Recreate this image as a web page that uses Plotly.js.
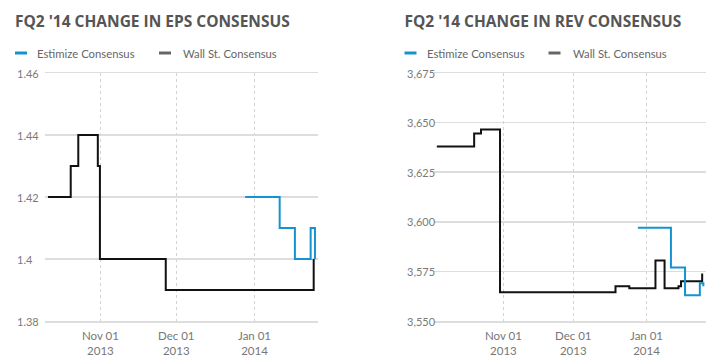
<!DOCTYPE html>
<html>
<head>
<meta charset="utf-8">
<script src="https://cdn.plot.ly/plotly-3.0.1.min.js"></script>
<style>
  html, body { margin: 0; padding: 0; background: #fff; }
  #wrap { width: 724px; height: 362px; display: flex; }
  .chart { width: 362px; height: 362px; }
</style>
</head>
<body>
<div id="wrap"><div id="eps" class="chart"></div><div id="rev" class="chart"></div></div>
<script>
// ---------- DATA ----------
const seriesNames = ["Estimize Consensus", "Wall St. Consensus"];

const epsTitle = "FQ2 '14 CHANGE IN EPS CONSENSUS";
const epsWallDates = ["2013-10-11", "2013-10-20", "2013-10-23", "2013-10-30 18:00", "2013-10-31 14:00", "2013-11-26 17:00", "2014-01-24 10:00"];
const epsWallValues = [1.42, 1.43, 1.44, 1.43, 1.40, 1.39, 1.40];
const epsEstDates = ["2013-12-28 05:00", "2014-01-10 22:00", "2014-01-16 23:00", "2014-01-23 05:00", "2014-01-24 22:00"];
const epsEstValues = [1.42, 1.41, 1.40, 1.41, 1.40];
const epsYTicks = [1.38, 1.40, 1.42, 1.44, 1.46];
const epsYTickText = ["1.38", "1.4", "1.42", "1.44", "1.46"];
const epsXRange = ["2013-10-09 19:00", "2014-01-26 03:00"];

const revTitle = "FQ2 '14 CHANGE IN REV CONSENSUS";
const revWallDates = ["2013-10-03 17:00", "2013-10-19 14:00", "2013-10-22 12:00", "2013-10-30 14:00", "2013-12-18 17:00", "2013-12-24 14:00", "2014-01-04 17:00", "2014-01-08 14:00", "2014-01-14 12:00", "2014-01-15 14:00", "2014-01-24 14:00"];
const revWallValues = [3638, 3644.5, 3646.5, 3564.5, 3567.5, 3566.5, 3580.5, 3566.5, 3567.5, 3570, 3574];
const revEstDates = ["2013-12-28 05:00", "2014-01-11 07:00", "2014-01-17 07:00", "2014-01-23 14:00", "2014-01-25 02:00"];
const revEstValues = [3597, 3577, 3563, 3569, 3567.5];
const revYTicks = [3550, 3575, 3600, 3625, 3650, 3675];
const revYTickText = ["3,550", "3,575", "3,600", "3,625", "3,650", "3,675"];
const revXRange = ["2013-10-02 12:00", "2014-01-26 05:00"];

const xTickVals = ["2013-11-01", "2013-12-01", "2014-01-01"];
const xTickText = ["Nov 01<br>2013", "Dec 01<br>2013", "Jan 01<br>2014"];

// ---------- STYLE ----------
const BLUE = "#1592cf";
const BLACK = "#111111";
const SWATCH_GRAY = "#666666";
const W = 362, H = 362;
const SMALL_FONT = "Lato, 'Open Sans', sans-serif";

function makeChart(div, title, wallX, wallY, estX, estY, yTicks, yText, xRange, margin, ox) {
  const pw = W - margin.l - margin.r;
  const ph = H - margin.t - margin.b;
  const px = v => (v - margin.l) / pw;
  const py = v => (H - margin.b - v) / ph;

  const traces = [
    { x: wallX, y: wallY, type: "scatter", mode: "lines", name: seriesNames[1],
      line: { shape: "hv", color: BLACK, width: 2 }, hoverinfo: "skip" },
    { x: estX, y: estY, type: "scatter", mode: "lines", name: seriesNames[0],
      line: { shape: "hv", color: BLUE, width: 2 }, hoverinfo: "skip" }
  ];

  const legY = 53;
  const annotations = [
    { text: seriesNames[0], xref: "paper", yref: "paper", x: px(ox + 35), y: py(legY),
      xanchor: "left", yanchor: "middle", showarrow: false,
      font: { family: SMALL_FONT, size: 11.3, color: "#666666" } },
    { text: seriesNames[1], xref: "paper", yref: "paper", x: px(ox + 181), y: py(legY),
      xanchor: "left", yanchor: "middle", showarrow: false,
      font: { family: SMALL_FONT, size: 11.3, color: "#666666" } }
  ];
  yTicks.forEach((v, i) => annotations.push({
    text: yText[i], xref: "paper", yref: "y", x: px(ox + 15), y: v,
    xanchor: "left", yanchor: "middle", showarrow: false,
    font: { family: SMALL_FONT, size: 11, color: "#7a7a7a" }
  }));
  xTickVals.forEach((v, i) => annotations.push({
    text: xTickText[i], xref: "x", yref: "paper", x: v, y: py(327),
    xanchor: "center", yanchor: "top", showarrow: false, align: "center",
    font: { family: SMALL_FONT, size: 11.5, color: "#777777" }
  }));

  const layout = {
    width: W, height: H,
    margin: margin,
    paper_bgcolor: "#fff", plot_bgcolor: "#fff",
    showlegend: false,
    title: { text: title, x: (ox + 15) / W, xanchor: "left", xref: "container",
             y: 1 - 22 / H, yanchor: "middle", yref: "container",
             font: { family: "Open Sans", size: 15.5, color: "#555555", weight: 700 } },
    xaxis: {
      type: "date", range: xRange,
      tickvals: xTickVals, showticklabels: false,
      showgrid: true, gridcolor: "#d2d2d2", griddash: "dot", gridwidth: 1,
      zeroline: false, showline: true, mirror: true, linecolor: "#dddddd", linewidth: 1.5,
      ticks: ""
    },
    yaxis: {
      range: [yTicks[0], yTicks[yTicks.length - 1]],
      tickvals: yTicks, showticklabels: false,
      showgrid: true, gridcolor: "#dddddd", gridwidth: 1.5,
      zeroline: false, showline: false, ticks: ""
    },
    shapes: [
      { type: "line", xref: "paper", yref: "paper", x0: px(ox + 15), x1: px(ox + 27), y0: py(legY), y1: py(legY),
        line: { color: BLUE, width: 3 } },
      { type: "line", xref: "paper", yref: "paper", x0: px(ox + 159), x1: px(ox + 171), y0: py(legY), y1: py(legY),
        line: { color: SWATCH_GRAY, width: 3 } }
    ],
    annotations: annotations
  };
  Plotly.newPlot(div, traces, layout, { staticPlot: true, displayModeBar: false });
}

makeChart("eps", epsTitle, epsWallDates, epsWallValues, epsEstDates, epsEstValues,
  epsYTicks, epsYTickText, epsXRange, { l: 45, r: 44, t: 73, b: 41 }, 0);
makeChart("rev", revTitle, revWallDates, revWallValues, revEstDates, revEstValues,
  revYTicks, revYTickText, revXRange, { l: 72, r: 18, t: 73, b: 41 }, 27.5);
</script>
</body>
</html>
